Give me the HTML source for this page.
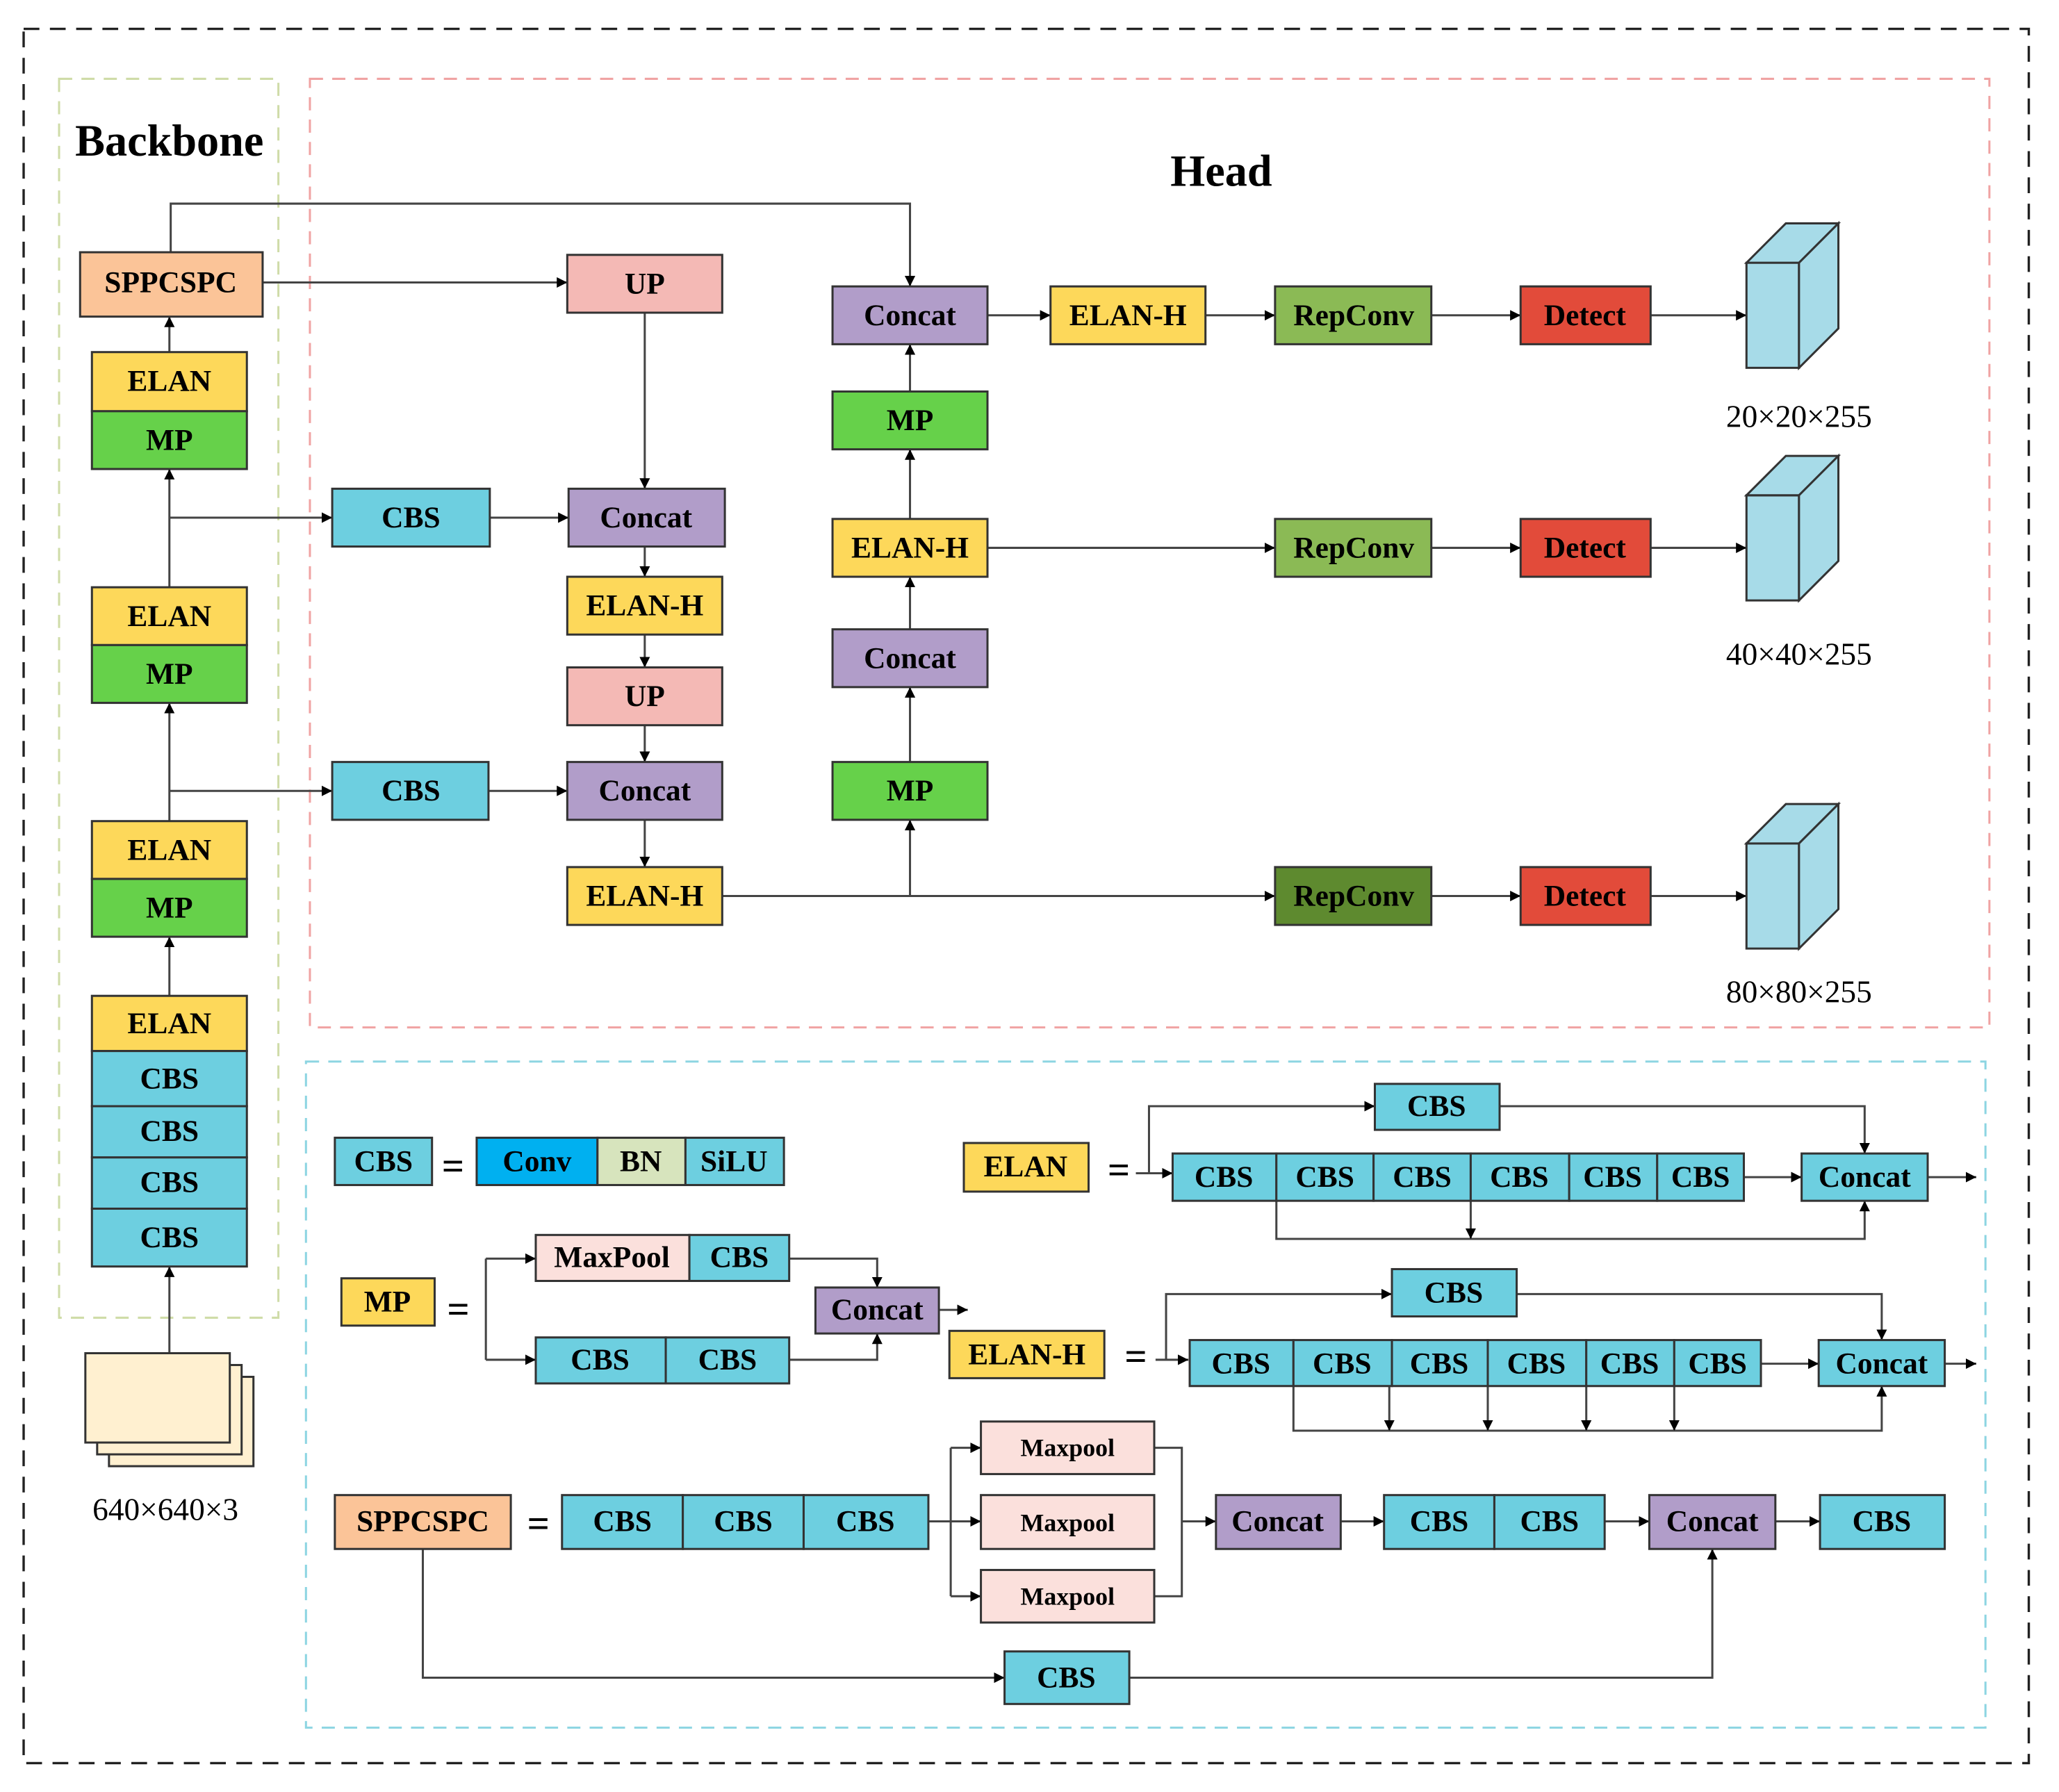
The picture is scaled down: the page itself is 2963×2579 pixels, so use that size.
<!DOCTYPE html>
<html><head><meta charset="utf-8"><style>
html,body{margin:0;padding:0;background:#fff;}
svg{display:block;}
text{font-family:"Liberation Serif",serif;font-weight:bold;font-size:23px;text-anchor:middle;dominant-baseline:central;fill:#000;}
.b{stroke:#333;stroke-width:1.6;}
.l{stroke:#444;stroke-width:1.6;fill:none;}
</style></head><body>
<svg width="2963" height="2579" viewBox="0 0 1568 1364" preserveAspectRatio="none" xmlns="http://www.w3.org/2000/svg">
<defs><marker id="a" viewBox="0 0 10 10" refX="10" refY="5" markerWidth="5" markerHeight="5" orient="auto"><path d="M0,0L10,5L0,10z" fill="#000"/></marker></defs>
<rect x="0" y="0" width="1568" height="1364" fill="#fff"/>
<rect x="18" y="22" width="1527" height="1320" fill="none" stroke="#222" stroke-width="1.8" stroke-dasharray="12,8"/>
<rect x="45" y="60" width="167" height="943" fill="none" stroke="#cfdca8" stroke-width="1.6" stroke-dasharray="10,7"/>
<rect x="236" y="60" width="1279" height="722" fill="none" stroke="#f0a3a3" stroke-width="1.6" stroke-dasharray="10,7"/>
<rect x="233" y="808" width="1279" height="507" fill="none" stroke="#8dd5e2" stroke-width="1.6" stroke-dasharray="10,7"/>
<text x="129" y="107" style="font-size:34px">Backbone</text>
<text x="930" y="130" style="font-size:34px">Head</text>

<g class="l" marker-end="url(#a)">
<path d="M129,1030V964"/><path d="M129,758V713"/><path d="M129,625V535"/><path d="M129,447V357"/><path d="M129,268V241"/>
<path d="M129,394H253"/><path d="M129,602H253"/>
<path d="M130,192V155H693V218"/>
<path d="M200,215H432"/>
<path d="M491,238V372"/>
<path d="M373,394H433"/><path d="M372,602H432"/>
<path d="M491,416V439"/><path d="M491,483V508"/><path d="M491,552V580"/><path d="M491,624V660"/>
<path d="M550,682H971"/><path d="M693,682V624"/>
<path d="M693,580V523"/><path d="M693,479V439"/><path d="M693,395V342"/><path d="M693,298V262"/>
<path d="M752,417H971"/>
<path d="M752,240H800"/><path d="M918,240H971"/>
<path d="M1090,240H1158"/><path d="M1090,417H1158"/><path d="M1090,682H1158"/>
<path d="M1257,240H1330"/><path d="M1257,417H1330"/><path d="M1257,682H1330"/>
</g>

<g class="b">
<rect x="61" y="192" width="139" height="49" fill="#fbc498"/>
<rect x="70" y="268" width="118" height="45" fill="#fdd85a"/><rect x="70" y="313" width="118" height="44" fill="#66d14a"/>
<rect x="70" y="447" width="118" height="44" fill="#fdd85a"/><rect x="70" y="491" width="118" height="44" fill="#66d14a"/>
<rect x="70" y="625" width="118" height="44" fill="#fdd85a"/><rect x="70" y="669" width="118" height="44" fill="#66d14a"/>
<rect x="70" y="758" width="118" height="42" fill="#fdd85a"/>
<rect x="70" y="800" width="118" height="42" fill="#6dcfe0"/><rect x="70" y="842" width="118" height="39" fill="#6dcfe0"/>
<rect x="70" y="881" width="118" height="39" fill="#6dcfe0"/><rect x="70" y="920" width="118" height="44" fill="#6dcfe0"/>
<rect x="83" y="1048" width="110" height="68" fill="#fff0d0"/>
<rect x="74" y="1039" width="110" height="68" fill="#fff0d0"/>
<rect x="65" y="1030" width="110" height="68" fill="#fff0d0"/>
</g>
<text x="130" y="215">SPPCSPC</text>
<text x="129" y="290">ELAN</text><text x="129" y="335">MP</text>
<text x="129" y="469">ELAN</text><text x="129" y="513">MP</text>
<text x="129" y="647">ELAN</text><text x="129" y="691">MP</text>
<text x="129" y="779">ELAN</text><text x="129" y="821">CBS</text><text x="129" y="861">CBS</text><text x="129" y="900">CBS</text><text x="129" y="942">CBS</text>
<text x="126" y="1149" style="font-weight:normal;font-size:24px">640×640×3</text>

<g class="b">
<rect x="432" y="194" width="118" height="44" fill="#f4b9b5"/>
<rect x="253" y="372" width="120" height="44" fill="#6dcfe0"/>
<rect x="433" y="372" width="119" height="44" fill="#b19dc9"/>
<rect x="432" y="439" width="118" height="44" fill="#fdd85a"/>
<rect x="432" y="508" width="118" height="44" fill="#f4b9b5"/>
<rect x="253" y="580" width="119" height="44" fill="#6dcfe0"/>
<rect x="432" y="580" width="118" height="44" fill="#b19dc9"/>
<rect x="432" y="660" width="118" height="44" fill="#fdd85a"/>
<rect x="634" y="218" width="118" height="44" fill="#b19dc9"/>
<rect x="634" y="298" width="118" height="44" fill="#66d14a"/>
<rect x="634" y="395" width="118" height="44" fill="#fdd85a"/>
<rect x="634" y="479" width="118" height="44" fill="#b19dc9"/>
<rect x="634" y="580" width="118" height="44" fill="#66d14a"/>
<rect x="800" y="218" width="118" height="44" fill="#fdd85a"/>
<rect x="971" y="218" width="119" height="44" fill="#8bba55"/>
<rect x="971" y="395" width="119" height="44" fill="#8bba55"/>
<rect x="971" y="660" width="119" height="44" fill="#5e8a2f"/>
<rect x="1158" y="218" width="99" height="44" fill="#e24b3a"/>
<rect x="1158" y="395" width="99" height="44" fill="#e24b3a"/>
<rect x="1158" y="660" width="99" height="44" fill="#e24b3a"/>
</g>
<text x="491" y="216">UP</text><text x="313" y="394">CBS</text><text x="492" y="394">Concat</text>
<text x="491" y="461">ELAN-H</text><text x="491" y="530">UP</text><text x="313" y="602">CBS</text>
<text x="491" y="602">Concat</text><text x="491" y="682">ELAN-H</text>
<text x="693" y="240">Concat</text><text x="693" y="320">MP</text><text x="693" y="417">ELAN-H</text>
<text x="693" y="501">Concat</text><text x="693" y="602">MP</text>
<text x="859" y="240">ELAN-H</text>
<text x="1031" y="240">RepConv</text><text x="1031" y="417">RepConv</text><text x="1031" y="682">RepConv</text>
<text x="1207" y="240">Detect</text><text x="1207" y="417">Detect</text><text x="1207" y="682">Detect</text>

<g class="b" fill="#a7dbe8">
<path d="M1330,200h40v80h-40z"/><path d="M1330,200l30,-30h40l-30,30z"/><path d="M1370,200l30,-30v80l-30,30z"/>
<path d="M1330,377h40v80h-40z"/><path d="M1330,377l30,-30h40l-30,30z"/><path d="M1370,377l30,-30v80l-30,30z"/>
<path d="M1330,642h40v80h-40z"/><path d="M1330,642l30,-30h40l-30,30z"/><path d="M1370,642l30,-30v80l-30,30z"/>
</g>
<text x="1370" y="317" style="font-weight:normal;font-size:24px">20×20×255</text>
<text x="1370" y="498" style="font-weight:normal;font-size:24px">40×40×255</text>
<text x="1370" y="755" style="font-weight:normal;font-size:24px">80×80×255</text>

<g class="l" marker-end="url(#a)">
<path d="M865,893H893"/><path d="M875,893V842H1047"/><path d="M1142,842H1420V878"/>
<path d="M1328,896H1372"/><path d="M1468,896H1505"/>
<path d="M972,914V943H1420V914"/><path d="M1120,914V943"/>
<path d="M370,958H408"/><path d="M370,1035H408"/>
<path d="M601,958H668V980"/><path d="M601,1035H668V1015"/><path d="M715,997H737"/>
<path d="M880,1035H905"/><path d="M888,1035V985H1060"/><path d="M1155,985H1433V1020"/>
<path d="M1341,1038H1385"/><path d="M1481,1038H1505"/>
<path d="M985,1055V1089H1433V1055"/>
<path d="M1058,1055V1089"/><path d="M1133,1055V1089"/><path d="M1208,1055V1089"/><path d="M1275,1055V1089"/>
<path d="M707,1158H747"/><path d="M724,1102H747"/><path d="M724,1215H747"/>
<path d="M900,1158H926"/><path d="M1021,1158H1054"/><path d="M1222,1158H1256"/><path d="M1352,1158H1386"/>
<path d="M322,1179V1277H765"/><path d="M860,1277H1304V1179"/>
</g>
<g class="l"><path d="M370,958V1035"/><path d="M724,1102V1215"/><path d="M879,1102H900V1215H879"/></g>

<g class="b">
<rect x="255" y="866" width="74" height="36" fill="#6dcfe0"/>
<rect x="363" y="866" width="92" height="36" fill="#00b0f0"/><rect x="455" y="866" width="67" height="36" fill="#d7e4bd"/><rect x="522" y="866" width="75" height="36" fill="#6dcfe0"/>
<rect x="734" y="870" width="95" height="37" fill="#fdd85a"/>
<rect x="1047" y="825" width="95" height="35" fill="#6dcfe0"/>
<rect x="893" y="878" width="79" height="36" fill="#6dcfe0"/><rect x="972" y="878" width="74" height="36" fill="#6dcfe0"/><rect x="1046" y="878" width="74" height="36" fill="#6dcfe0"/><rect x="1120" y="878" width="75" height="36" fill="#6dcfe0"/><rect x="1195" y="878" width="67" height="36" fill="#6dcfe0"/><rect x="1262" y="878" width="66" height="36" fill="#6dcfe0"/>
<rect x="1372" y="878" width="96" height="36" fill="#6dcfe0"/>
<rect x="260" y="973" width="71" height="36" fill="#fdd85a"/>
<rect x="408" y="940" width="117" height="35" fill="#fbe0dc"/><rect x="525" y="940" width="76" height="35" fill="#6dcfe0"/>
<rect x="621" y="980" width="94" height="35" fill="#b19dc9"/>
<rect x="408" y="1018" width="99" height="35" fill="#6dcfe0"/><rect x="507" y="1018" width="94" height="35" fill="#6dcfe0"/>
<rect x="723" y="1013" width="118" height="36" fill="#fdd85a"/>
<rect x="1060" y="966" width="95" height="36" fill="#6dcfe0"/>
<rect x="906" y="1020" width="79" height="35" fill="#6dcfe0"/><rect x="985" y="1020" width="75" height="35" fill="#6dcfe0"/><rect x="1060" y="1020" width="73" height="35" fill="#6dcfe0"/><rect x="1133" y="1020" width="75" height="35" fill="#6dcfe0"/><rect x="1208" y="1020" width="67" height="35" fill="#6dcfe0"/><rect x="1275" y="1020" width="66" height="35" fill="#6dcfe0"/>
<rect x="1385" y="1020" width="96" height="35" fill="#6dcfe0"/>
<rect x="255" y="1138" width="134" height="41" fill="#fbc498"/>
<rect x="428" y="1138" width="92" height="41" fill="#6dcfe0"/><rect x="520" y="1138" width="92" height="41" fill="#6dcfe0"/><rect x="612" y="1138" width="95" height="41" fill="#6dcfe0"/>
<rect x="747" y="1082" width="132" height="40" fill="#fbe0dc"/><rect x="747" y="1138" width="132" height="41" fill="#fbe0dc"/><rect x="747" y="1195" width="132" height="40" fill="#fbe0dc"/>
<rect x="926" y="1138" width="95" height="41" fill="#b19dc9"/>
<rect x="1054" y="1138" width="84" height="41" fill="#6dcfe0"/><rect x="1138" y="1138" width="84" height="41" fill="#6dcfe0"/>
<rect x="1256" y="1138" width="96" height="41" fill="#b19dc9"/>
<rect x="1386" y="1138" width="95" height="41" fill="#6dcfe0"/>
<rect x="765" y="1257" width="95" height="40" fill="#6dcfe0"/>
</g>
<text x="345" y="888" style="font-size:30px">=</text><text x="852" y="891" style="font-size:30px">=</text><text x="349" y="997" style="font-size:30px">=</text><text x="865" y="1033" style="font-size:30px">=</text><text x="410" y="1160" style="font-size:30px">=</text>
<text x="292" y="884">CBS</text><text x="409" y="884">Conv</text><text x="488" y="884">BN</text><text x="559" y="884">SiLU</text>
<text x="781" y="888">ELAN</text><text x="1094" y="842">CBS</text>
<text x="932" y="896">CBS</text><text x="1009" y="896">CBS</text><text x="1083" y="896">CBS</text><text x="1157" y="896">CBS</text><text x="1228" y="896">CBS</text><text x="1295" y="896">CBS</text><text x="1420" y="896">Concat</text>
<text x="295" y="991">MP</text><text x="466" y="957">MaxPool</text><text x="563" y="957">CBS</text><text x="668" y="997">Concat</text>
<text x="457" y="1035">CBS</text><text x="554" y="1035">CBS</text>
<text x="782" y="1031">ELAN-H</text><text x="1107" y="984">CBS</text>
<text x="945" y="1038">CBS</text><text x="1022" y="1038">CBS</text><text x="1096" y="1038">CBS</text><text x="1170" y="1038">CBS</text><text x="1241" y="1038">CBS</text><text x="1308" y="1038">CBS</text><text x="1433" y="1038">Concat</text>
<text x="322" y="1158">SPPCSPC</text><text x="474" y="1158">CBS</text><text x="566" y="1158">CBS</text><text x="659" y="1158">CBS</text>
<text x="813" y="1102" style="font-size:19px">Maxpool</text><text x="813" y="1159" style="font-size:19px">Maxpool</text><text x="813" y="1215" style="font-size:19px">Maxpool</text>
<text x="973" y="1158">Concat</text><text x="1096" y="1158">CBS</text><text x="1180" y="1158">CBS</text><text x="1304" y="1158">Concat</text><text x="1433" y="1158">CBS</text>
<text x="812" y="1277">CBS</text>
</svg>
</body></html>
